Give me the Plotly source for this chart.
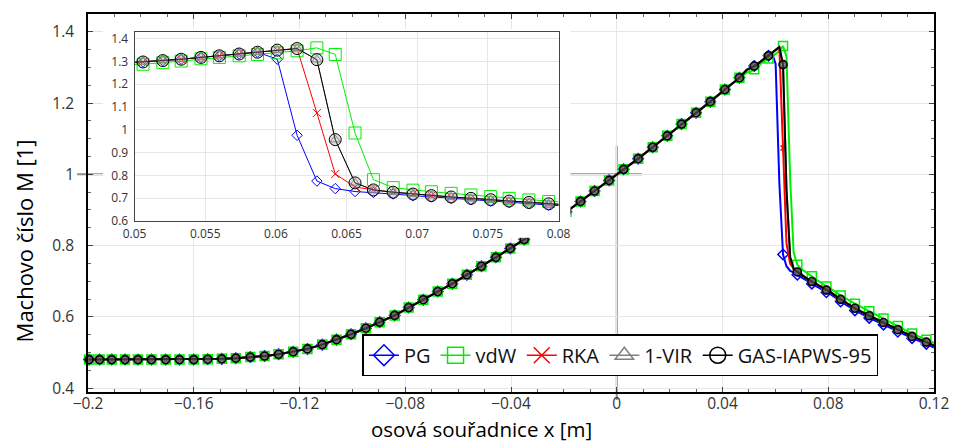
import plotly.graph_objects as go

# ---------------- data ----------------
x_up = [-0.1996, -0.1956, -0.1910, -0.1860, -0.1811, -0.1760, -0.1706, -0.1654, -0.1600, -0.1547,
        -0.1494, -0.1441, -0.1386, -0.1332, -0.1279, -0.1224, -0.1170, -0.1114, -0.1060, -0.1005,
        -0.0949, -0.0897, -0.0840, -0.0787, -0.0732, -0.0677, -0.0622, -0.0567, -0.0512, -0.0457,
        -0.0403, -0.0350, -0.0297, -0.0243, -0.0190, -0.0137, -0.0084, -0.0029, 0.0026, 0.0081,
        0.0136, 0.0191, 0.0245, 0.0300, 0.0354, 0.0409, 0.0464]
M_up = [0.480, 0.480, 0.480, 0.480, 0.480, 0.480, 0.480, 0.480, 0.480, 0.481,
        0.482, 0.484, 0.487, 0.490, 0.495, 0.502, 0.510, 0.522, 0.536, 0.551,
        0.568, 0.585, 0.604, 0.626, 0.648, 0.671, 0.693, 0.718, 0.742, 0.767,
        0.792, 0.817, 0.842, 0.868, 0.895, 0.924, 0.953, 0.983, 1.014, 1.044,
        1.076, 1.108, 1.141, 1.173, 1.204, 1.238, 1.271]

x_fine = [0.0492, 0.0506, 0.0520, 0.0533, 0.0547, 0.0560, 0.0574, 0.0587, 0.0601, 0.0615,
          0.0629, 0.0642, 0.0656, 0.0669, 0.0683, 0.0697, 0.0710, 0.0724, 0.0738, 0.0752,
          0.0765, 0.0779, 0.0793, 0.0807]
M_pg_f = [1.293, 1.298, 1.304, 1.310, 1.318, 1.325, 1.333, 1.341, 1.310, 0.976,
          0.775, 0.742, 0.729, 0.725, 0.718, 0.711, 0.705, 0.699, 0.693, 0.687,
          0.681, 0.675, 0.669, 0.664]
M_vdw_f = [1.286, 1.288, 1.295, 1.302, 1.312, 1.318, 1.325, 1.331, 1.338, 1.347,
           1.360, 1.331, 0.986, 0.781, 0.746, 0.735, 0.728, 0.721, 0.714, 0.707,
           0.699, 0.692, 0.685, 0.680]
M_rka_f = [1.293, 1.298, 1.304, 1.310, 1.318, 1.325, 1.333, 1.341, 1.350, 1.357,
           1.074, 0.806, 0.749, 0.736, 0.726, 0.718, 0.711, 0.705, 0.699, 0.693,
           0.687, 0.681, 0.675, 0.670]
M_vir_f = [1.293, 1.298, 1.304, 1.310, 1.318, 1.325, 1.333, 1.341, 1.350, 1.357,
           1.308, 0.957, 0.767, 0.736, 0.726, 0.718, 0.711, 0.705, 0.699, 0.693,
           0.687, 0.681, 0.675, 0.670]
M_gas_f = [1.293, 1.298, 1.304, 1.310, 1.318, 1.325, 1.333, 1.341, 1.350, 1.357,
           1.308, 0.957, 0.767, 0.736, 0.726, 0.718, 0.711, 0.705, 0.699, 0.693,
           0.687, 0.681, 0.675, 0.670]

x_dn = [0.0847, 0.0901, 0.0955, 0.1009, 0.1063, 0.1117, 0.1171, 0.1200]
M_pg_d = [0.643, 0.618, 0.597, 0.578, 0.558, 0.540, 0.524, 0.514]
M_vdw_d = [0.660, 0.637, 0.616, 0.595, 0.574, 0.553, 0.536, 0.527]
M_rka_d = [0.649, 0.624, 0.603, 0.584, 0.564, 0.545, 0.529, 0.519]
M_vir_d = [0.649, 0.624, 0.603, 0.584, 0.564, 0.545, 0.529, 0.519]
M_gas_d = [0.649, 0.624, 0.603, 0.584, 0.564, 0.545, 0.529, 0.519]

names = ["PG", "vdW", "RKA", "1-VIR", "GAS-IAPWS-95"]
fine_sets = [M_pg_f, M_vdw_f, M_rka_f, M_vir_f, M_gas_f]
down_sets = [M_pg_d, M_vdw_d, M_rka_d, M_vir_d, M_gas_d]

fine_marker_idx = [2, 6, 10, 14, 18, 22]
down_marker_idx = [0, 1, 2, 3, 4, 5, 6]

x_main = [-0.2, 0.12]
y_main = [0.389, 1.45]
x_ins = [0.05, 0.08]
y_ins = [0.6, 1.43]

colors = ["#0000ff", "#00ee00", "#ff0000", "#808080", "#000000"]
main_marker = [
    dict(symbol="diamond-open", size=8, color="#0000ff", line=dict(width=1.5, color="#0000ff")),
    dict(symbol="square-open", size=9, color="#00ee00", line=dict(width=1.5, color="#00ee00")),
    dict(symbol="x-thin-open", size=5, color="#ff0000", line=dict(width=1.5, color="#ff0000")),
    dict(symbol="triangle-up-open", size=7, color="#808080", line=dict(width=1.5, color="#808080")),
    dict(symbol="circle", size=8, color="rgba(90,90,90,0.6)", line=dict(width=1.6, color="#000000")),
]
inset_marker = [
    dict(symbol="diamond-open", size=8, color="#0000ff", line=dict(width=1, color="#0000ff")),
    dict(symbol="square-open", size=12, color="#00ee00", line=dict(width=1, color="#00ee00")),
    dict(symbol="x-thin-open", size=8, color="#ff0000", line=dict(width=1, color="#ff0000")),
    dict(symbol="triangle-up-open", size=9, color="#808080", line=dict(width=1, color="#808080")),
    dict(symbol="circle", size=12, color="rgba(160,160,160,0.35)", line=dict(width=1, color="#000000")),
]
legend_marker = [
    dict(symbol="diamond-open", size=16, color="#0000ff", line=dict(width=1.5, color="#0000ff")),
    dict(symbol="square-open", size=16, color="#00ee00", line=dict(width=1.5, color="#00ee00")),
    dict(symbol="x-thin-open", size=16, color="#ff0000", line=dict(width=1.5, color="#ff0000")),
    dict(symbol="triangle-up-open", size=16, color="#808080", line=dict(width=1.5, color="#808080")),
    dict(symbol="circle-open", size=16, color="#000000", line=dict(width=1.5, color="#000000")),
]

fig = go.Figure()
# empty trace that creates the white backing panel (x2/y2) behind the inset
fig.add_trace(go.Scatter(x=[None], y=[None], xaxis="x2", yaxis="y2", showlegend=False,
                         hoverinfo="skip"))

for i, name in enumerate(names):
    xs = x_up + x_fine + x_dn
    ys = M_up + fine_sets[i] + down_sets[i]
    fig.add_trace(go.Scatter(x=xs, y=ys, mode="lines", line=dict(color=colors[i], width=2),
                             showlegend=False, xaxis="x", yaxis="y"))
    mx = x_up + [x_fine[k] for k in fine_marker_idx] + [x_dn[k] for k in down_marker_idx]
    my = M_up + [fine_sets[i][k] for k in fine_marker_idx] + [down_sets[i][k] for k in down_marker_idx]
    fig.add_trace(go.Scatter(x=mx, y=my, mode="markers", marker=main_marker[i],
                             showlegend=False, cliponaxis=False, xaxis="x", yaxis="y"))

for i, name in enumerate(names):
    fig.add_trace(go.Scatter(x=[None], y=[None], mode="lines+markers", name=name,
                             line=dict(color=colors[i], width=1.5), marker=legend_marker[i],
                             xaxis="x", yaxis="y"))

for i, name in enumerate(names):
    fig.add_trace(go.Scatter(x=x_fine, y=fine_sets[i], mode="lines+markers",
                             line=dict(color=colors[i], width=1), marker=inset_marker[i],
                             showlegend=False, xaxis="x3", yaxis="y3"))

W, H = 961, 443
ml, mr, mt, mb = 88, 19, 12, 51
pw, ph = W - ml - mr, H - mt - mb
tickfam = "Open Sans"
titlefam = "Open Sans"


def px_x(p):
    return (p - ml) / pw


def px_y(p):
    return (H - mb - p) / ph


def ydata_to_paper(v):
    return (v - y_main[0]) / (y_main[1] - y_main[0])


def xdata_to_paper(v):
    return (v - x_main[0]) / (x_main[1] - x_main[0])


fig.update_layout(
    width=W, height=H, autosize=False,
    margin=dict(l=ml, r=mr, t=mt, b=mb),
    paper_bgcolor="white", plot_bgcolor="white",
    xaxis=dict(domain=[0, 1], range=x_main, tick0=0, dtick=0.04, anchor="y",
               showgrid=True, gridcolor="#e6e6e6", gridwidth=1, zeroline=False,
               showline=True, linecolor="black", linewidth=1.5, mirror="ticks",
               ticks="inside", ticklen=5, tickwidth=1, tickcolor="#444",
               minor=dict(dtick=0.01, ticks="inside", ticklen=3, tickcolor="#666", showgrid=False),
               tickfont=dict(family=tickfam, size=15.5, color="#333"), ticklabelstandoff=-3),
    yaxis=dict(domain=[0, 1], range=y_main, tick0=0.4, dtick=0.2, anchor="x",
               showgrid=True, gridcolor="#e6e6e6", gridwidth=1, zeroline=False,
               showline=True, linecolor="black", linewidth=1.5, mirror="ticks",
               ticks="inside", ticklen=5, tickwidth=1, tickcolor="#444",
               minor=dict(dtick=0.05, ticks="inside", ticklen=3, tickcolor="#666", showgrid=False),
               tickfont=dict(family=tickfam, size=15.5, color="#333"), ticklabelstandoff=9),
    xaxis2=dict(domain=[px_x(103), px_x(575)], range=[0, 1], anchor="y2", visible=False),
    yaxis2=dict(domain=[px_y(237), px_y(27)], range=[0, 1], anchor="x2", visible=False),
    xaxis3=dict(domain=[px_x(135), px_x(563)], range=x_ins, dtick=0.005, tick0=0.05, anchor="y3",
                showgrid=True, gridcolor="#e6e6e6", zeroline=False,
                showline=True, linecolor="#444", linewidth=1, mirror=True, ticks="",
                tickfont=dict(family=tickfam, size=12, color="#333"), ticklabelstandoff=2),
    yaxis3=dict(domain=[px_y(220), px_y(30)], range=y_ins, dtick=0.1, tick0=0.6, anchor="x3",
                showgrid=True, gridcolor="#e6e6e6", zeroline=False,
                showline=True, linecolor="#444", linewidth=1, mirror=True, ticks="",
                tickfont=dict(family=tickfam, size=12, color="#333"), ticklabelstandoff=3),
    legend=dict(orientation="h", x=px_x(625.5), y=px_y(355), xanchor="center", yanchor="middle",
                bgcolor="white", bordercolor="black", borderwidth=1.5,
                font=dict(family=titlefam, size=20, color="#111"), itemwidth=30,
                tracegroupgap=0),
    shapes=[
        dict(type="line", xref="x", yref="paper", x0=0, x1=0,
             y0=px_y(400), y1=ydata_to_paper(1.08),
             line=dict(color="#8c8c8c", width=2), layer="below"),
        dict(type="line", xref="paper", yref="y", x0=px_x(77), x1=xdata_to_paper(0.0095),
             y0=1, y1=1, line=dict(color="#8c8c8c", width=2), layer="below"),
    ],
    annotations=[
        dict(text="osová souřadnice x [m]", xref="paper", yref="paper",
             x=px_x(485), y=px_y(429), xanchor="center", yanchor="middle", showarrow=False,
             font=dict(family=titlefam, size=20.5, color="black")),
        dict(text="Machovo číslo M [1]", xref="paper", yref="paper", textangle=-90,
             x=px_x(23), y=px_y(240), xanchor="center", yanchor="middle", showarrow=False,
             font=dict(family=titlefam, size=22, color="black")),
    ],
)

fig.write_html("out.html")
